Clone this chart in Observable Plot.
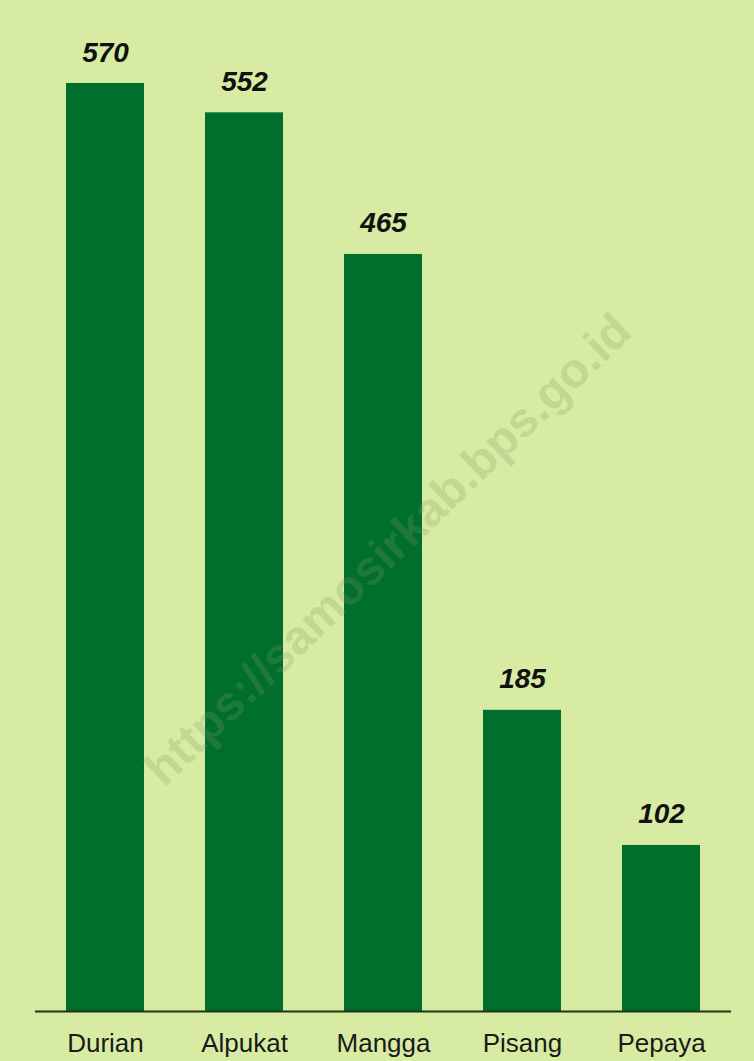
<!DOCTYPE html>
<html>
<head>
<meta charset="utf-8">
<script src="https://cdn.jsdelivr.net/npm/d3@7"></script>
<script src="https://cdn.jsdelivr.net/npm/@observablehq/plot@0.6"></script>
<style>
  html, body { margin: 0; padding: 0; background: #d7eca2; }
  svg { display: block; }
</style>
</head>
<body>
<div id="chart"></div>
<script>
const categories = ["Durian", "Alpukat", "Mangga", "Pisang", "Pepaya"];
const values = [570, 552, 465, 185, 102];
const watermark = ["https://samosirkab.bps.go.id"];

const data = categories.map((c, i) => ({ category: c, value: values[i] }));

const chart = Plot.plot({
  width: 754,
  height: 1061,
  marginLeft: 35,
  marginRight: 23,
  marginTop: 0,
  marginBottom: 50,
  style: { background: "#d7eca2", fontFamily: "'Liberation Sans', Arial, sans-serif" },
  x: { domain: categories, range: [65, 701], paddingInner: 0.44, paddingOuter: 0, label: null },
  y: { domain: [0, 570], range: [1011, 83], axis: null },
  marks: [
    Plot.barY(data, { x: "category", y: "value", fill: "#006f2e" }),
    Plot.ruleY([0], { stroke: "#1f3515", strokeWidth: 2 }),
    Plot.text(data, {
      x: "category",
      y: "value",
      text: d => String(d.value),
      lineAnchor: "bottom",
      dy: -22,
      fontSize: 28,
      fontWeight: "bold",
      fontStyle: "italic",
      fill: "#111"
    }),
    Plot.axisX({
      tickSize: 0,
      tickPadding: 22,
      fontSize: 26,
      fill: "#1a1a1a",
      label: null
    }),
    Plot.text(watermark, {
      frameAnchor: "middle",
      text: d => d,
      rotate: -44,
      dx: 5,
      dy: 44,
      fontSize: 48,
      fontWeight: "bold",
      fill: "#819667",
      fillOpacity: 0.25
    })
  ]
});
document.getElementById("chart").appendChild(chart);
</script>
</body>
</html>
